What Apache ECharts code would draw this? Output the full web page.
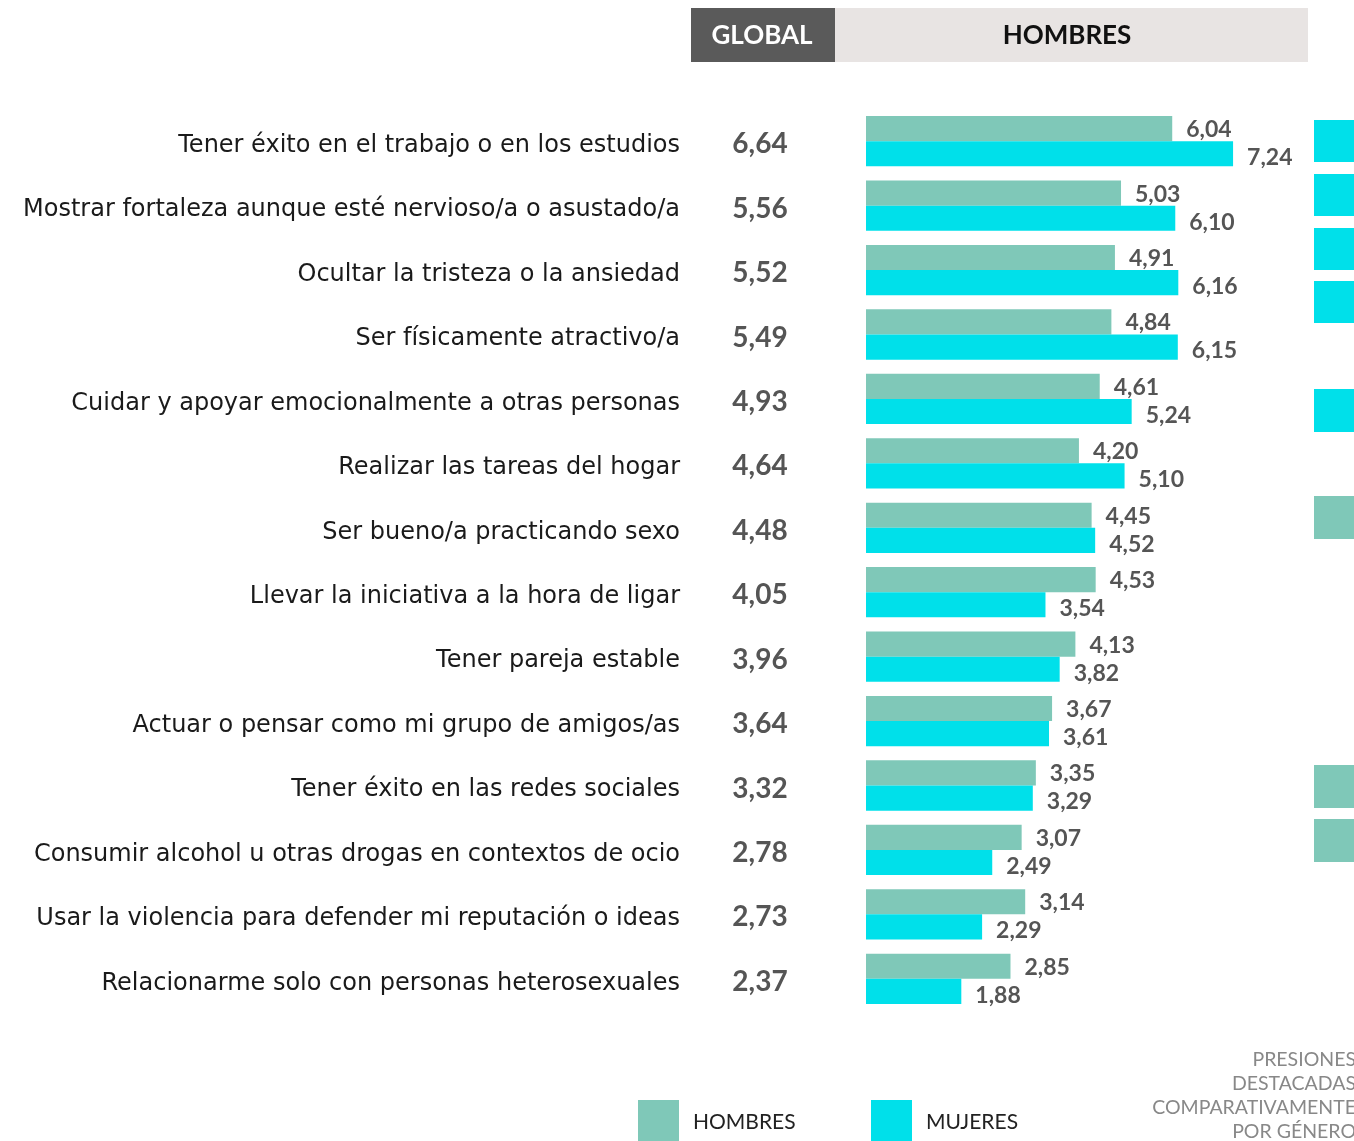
<!DOCTYPE html>
<html>
<head>
<meta charset="utf-8">
<script src="https://cdn.jsdelivr.net/npm/echarts@6/dist/echarts.min.js"></script>
<style>
  html, body { margin: 0; padding: 0; background: #fff; }
  #chart { width: 1354px; height: 1141px; }
</style>
</head>
<body>
<div id="chart"></div>
<script>
// categorias (de arriba a abajo)
var categorias = [
  'Tener éxito en el trabajo o en los estudios',
  'Mostrar fortaleza aunque esté nervioso/a o asustado/a',
  'Ocultar la tristeza o la ansiedad',
  'Ser físicamente atractivo/a',
  'Cuidar y apoyar emocionalmente a otras personas',
  'Realizar las tareas del hogar',
  'Ser bueno/a practicando sexo',
  'Llevar la iniciativa a la hora de ligar',
  'Tener pareja estable',
  'Actuar o pensar como mi grupo de amigos/as',
  'Tener éxito en las redes sociales',
  'Consumir alcohol u otras drogas en contextos de ocio',
  'Usar la violencia para defender mi reputación o ideas',
  'Relacionarme solo con personas heterosexuales'
];
var global = [6.64, 5.56, 5.52, 5.49, 4.93, 4.64, 4.48, 4.05, 3.96, 3.64, 3.32, 2.78, 2.73, 2.37];
var hombres = [6.04, 5.03, 4.91, 4.84, 4.61, 4.20, 4.45, 4.53, 4.13, 3.67, 3.35, 3.07, 3.14, 2.85];
var mujeres = [7.24, 6.10, 6.16, 6.15, 5.24, 5.10, 4.52, 3.54, 3.82, 3.61, 3.29, 2.49, 2.29, 1.88];

var cHombres = '#7fc8b8';
var cMujeres = '#00e0ea';

function coma(v) { return v.toFixed(2).replace('.', ','); }

var myChart = echarts.init(document.getElementById('chart'));

var labelNum = {
  show: true,
  position: 'right',
  distance: 14,
  color: '#555',
  fontFamily: 'Lato',
  fontWeight: 'bold',
  fontSize: 23,
  formatter: function (p) { return coma(p.value); }
};

var option = {
  animation: false,
  backgroundColor: '#fff',
  grid: { left: 866, top: 109, width: 507, height: 902, outerBoundsMode: 'none' },
  xAxis: {
    type: 'value', min: 0, max: 10,
    show: false
  },
  yAxis: [
    {
      type: 'category',
      data: categorias,
      inverse: true,
      axisLine: { show: false },
      axisTick: { show: false },
      axisLabel: {
        margin: 186,
        color: '#1a1a1a',
        fontFamily: 'DejaVu Sans',
        fontSize: 24,
        verticalAlign: 'top',
        lineHeight: 9   // baja el texto unos px respecto al centro de la banda
      }
    },
    {
      type: 'category',
      data: global.map(coma),
      inverse: true,
      position: 'left',
      axisLine: { show: false },
      axisTick: { show: false },
      axisLabel: {
        margin: 106,
        align: 'center',
        color: '#555',
        fontFamily: 'Lato',
        fontWeight: 'bold',
        fontSize: 28,
        verticalAlign: 'top',
        lineHeight: 6
      }
    }
  ],
  series: [
    {
      name: 'HOMBRES',
      type: 'bar',
      data: hombres,
      barGap: 0,
      barCategoryGap: '22%',
      itemStyle: { color: cHombres },
      label: Object.assign({}, labelNum, { offset: [0, 1] })
    },
    {
      name: 'MUJERES',
      type: 'bar',
      data: mujeres,
      itemStyle: { color: cMujeres },
      label: Object.assign({}, labelNum, { offset: [0, 4] })
    }
  ],
  graphic: [
    // cabecera
    { type: 'rect', shape: { x: 691, y: 8, width: 144, height: 54 }, style: { fill: '#5a5a5a' } },
    { type: 'text', x: 762, y: 36, style: { text: 'GLOBAL', fill: '#fff', font: 'bold 26px Lato', align: 'center', verticalAlign: 'middle' } },
    { type: 'rect', shape: { x: 835, y: 8, width: 473, height: 54 }, style: { fill: '#e8e4e3' } },
    { type: 'text', x: 1067, y: 36, style: { text: 'HOMBRES', fill: '#111', font: 'bold 26px Lato', align: 'center', verticalAlign: 'middle' } },
    // cuadros de presiones destacadas
    { type: 'rect', shape: { x: 1314, y: 120, width: 42, height: 42 }, style: { fill: cMujeres } },
    { type: 'rect', shape: { x: 1314, y: 174, width: 42, height: 42 }, style: { fill: cMujeres } },
    { type: 'rect', shape: { x: 1314, y: 228, width: 42, height: 42 }, style: { fill: cMujeres } },
    { type: 'rect', shape: { x: 1314, y: 281, width: 42, height: 42 }, style: { fill: cMujeres } },
    { type: 'rect', shape: { x: 1314, y: 389, width: 42, height: 43 }, style: { fill: cMujeres } },
    { type: 'rect', shape: { x: 1314, y: 496, width: 42, height: 43 }, style: { fill: cHombres } },
    { type: 'rect', shape: { x: 1314, y: 765, width: 42, height: 43 }, style: { fill: cHombres } },
    { type: 'rect', shape: { x: 1314, y: 819, width: 42, height: 43 }, style: { fill: cHombres } },
    // leyenda
    { type: 'rect', shape: { x: 638, y: 1100, width: 41, height: 41 }, style: { fill: cHombres } },
    { type: 'text', x: 693, y: 1122, style: { text: 'HOMBRES', fill: '#222', font: '21px Lato', verticalAlign: 'middle' } },
    { type: 'rect', shape: { x: 871, y: 1100, width: 41, height: 41 }, style: { fill: cMujeres } },
    { type: 'text', x: 926, y: 1122, style: { text: 'MUJERES', fill: '#222', font: '21px Lato', verticalAlign: 'middle' } },
    { type: 'text', x: 1356, y: 1048, style: { text: 'PRESIONES\nDESTACADAS\nCOMPARATIVAMENTE\nPOR GÉNERO', fill: '#888', font: '19.5px Lato', align: 'right', lineHeight: 24 } }
  ]
};

myChart.setOption(option);
</script>
</body>
</html>
